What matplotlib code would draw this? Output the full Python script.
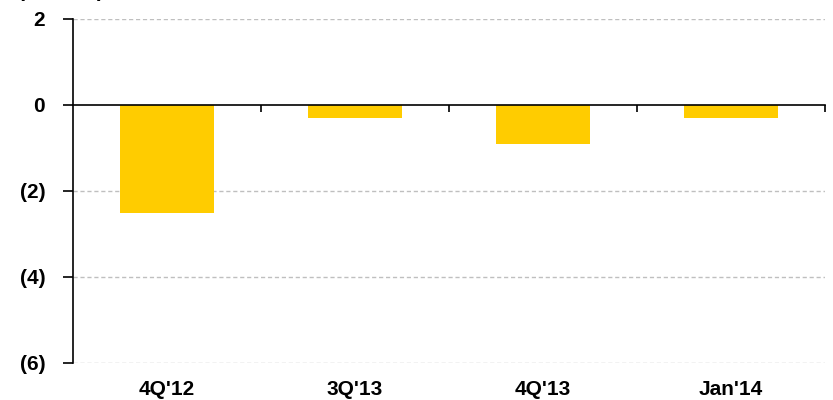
import matplotlib
matplotlib.use("Agg")
import matplotlib.pyplot as plt

categories = ["4Q'12", "3Q'13", "4Q'13", "Jan'14"]
values = [-2.5, -0.3, -0.9, -0.3]
yticks = [2, 0, -2, -4, -6]
ytick_labels = ["2", "0", "(2)", "(4)", "(6)"]

plt.rcParams['font.family'] = ['Liberation Sans', 'DejaVu Sans']

fig = plt.figure(figsize=(8.33, 4.0), dpi=100)
ax = fig.add_axes([73/833, 1-363/400, (825-73)/833, (363-19)/400])

x = list(range(len(categories)))
ax.set_axisbelow(True)
for yv in yticks:
    if yv != 0:
        ax.axhline(yv, color='#bfbfbf', linestyle=(0, (3, 2)), linewidth=1.0, zorder=0)
ax.bar(x, values, width=0.5, color='#FFCC00', zorder=2)

ax.set_xlim(-0.5, len(categories) - 0.5)
ax.set_ylim(-6, 2)
ax.set_yticks(yticks)
ax.set_yticklabels(ytick_labels, fontsize=15, fontweight='bold')
ax.tick_params(axis='y', direction='out', length=7, width=1.2, pad=13, color='black')

ax.spines['top'].set_visible(False)
ax.spines['right'].set_visible(False)
ax.spines['left'].set_linewidth(1.2)
ax.spines['bottom'].set_position(('data', 0))
ax.spines['bottom'].set_linewidth(1.2)
ax.set_xticks([i + 0.5 for i in x])
ax.set_xticklabels([])
ax.tick_params(axis='x', direction='out', length=5, width=1.2)

sec = ax.secondary_xaxis(0.0)
sec.set_xticks(x)
sec.set_xticklabels(categories, fontsize=15, fontweight='bold')
sec.tick_params(length=0, pad=12)
sec.spines['bottom'].set_visible(False)

fig.text(18/833, 1.0 + 2.5/400, "(US$ bn)", fontsize=15, fontweight='bold', ha='left', va='baseline')

fig.savefig("out.png", dpi=100)
